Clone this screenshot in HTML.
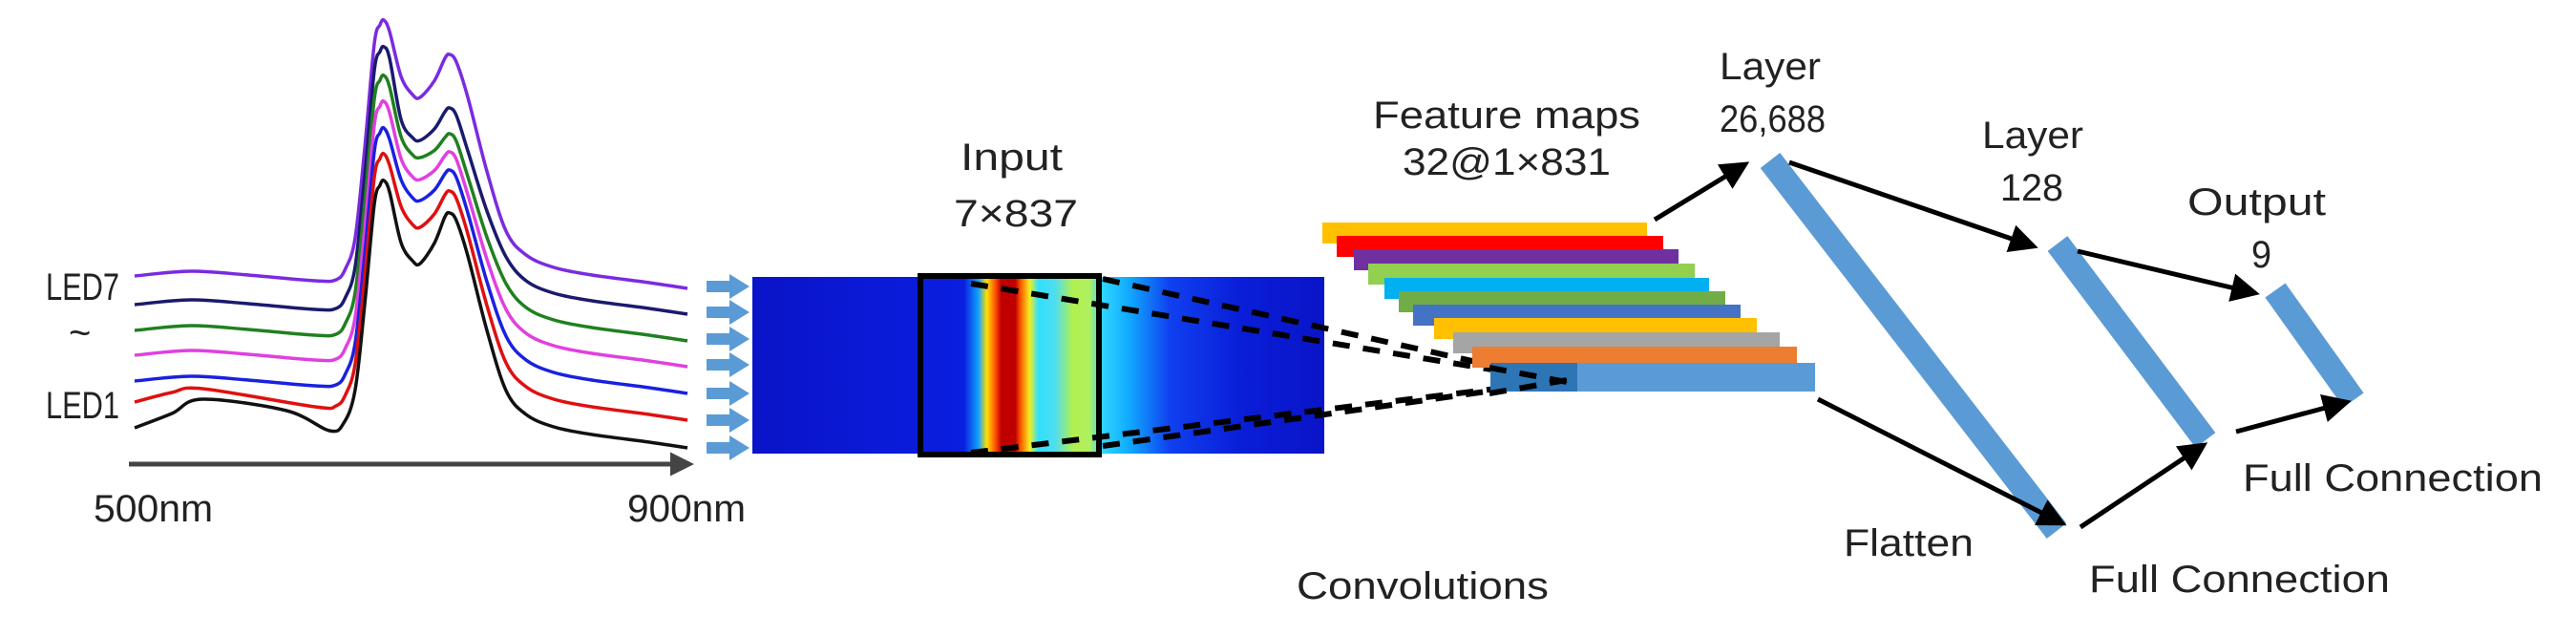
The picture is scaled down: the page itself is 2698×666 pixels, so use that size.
<!DOCTYPE html>
<html><head><meta charset="utf-8"><style>
html,body{margin:0;padding:0;background:#fff;}
svg{display:block;}
text{font-family:"Liberation Sans",sans-serif;fill:#222;font-size:40px;}
</style></head><body>
<svg id="s" width="2698" height="666" viewBox="0 0 2698 666" xmlns="http://www.w3.org/2000/svg">
<defs>
<marker id="ah" markerWidth="6" markerHeight="6" refX="5" refY="3" orient="auto" markerUnits="strokeWidth">
<path d="M0,0 L6,3 L0,6 Z" fill="#000"/></marker>
<marker id="ag" markerWidth="5" markerHeight="5" refX="4" refY="2.5" orient="auto" markerUnits="strokeWidth">
<path d="M0,0 L5,2.5 L0,5 Z" fill="#444"/></marker>
<linearGradient id="hm" x1="788" x2="1387" gradientUnits="userSpaceOnUse">
<stop offset="0" stop-color="#0a14c8"/>
<stop offset="0.37" stop-color="#0a1ee0"/>
<stop offset="0.395" stop-color="#10a0ff"/>
<stop offset="0.41" stop-color="#ffe000"/>
<stop offset="0.425" stop-color="#ff5000"/>
<stop offset="0.435" stop-color="#c00000"/>
<stop offset="0.46" stop-color="#c00000"/>
<stop offset="0.47" stop-color="#ff6000"/>
<stop offset="0.485" stop-color="#f0f020"/>
<stop offset="0.5" stop-color="#30e0ff"/>
<stop offset="0.53" stop-color="#50ddee"/>
<stop offset="0.56" stop-color="#b0f050"/>
<stop offset="0.59" stop-color="#b0f060"/>
<stop offset="0.61" stop-color="#30d8ff"/>
<stop offset="0.66" stop-color="#10a8ff"/>
<stop offset="0.73" stop-color="#1040f0"/>
<stop offset="0.85" stop-color="#0a1ed8"/>
<stop offset="1" stop-color="#0a14c8"/>
</linearGradient>
</defs>

<text x="48" y="314" textLength="77" lengthAdjust="spacingAndGlyphs">LED7</text>
<text x="72" y="362" font-size="34">~</text>
<text x="48" y="438" textLength="77" lengthAdjust="spacingAndGlyphs">LED1</text>

<g id="spec" fill="none" stroke-width="3.5" stroke-linejoin="round"></g>

<line x1="135" y1="486" x2="722" y2="486" stroke="#444" stroke-width="5" marker-end="url(#ag)"/>
<text x="98" y="546" textLength="125" lengthAdjust="spacingAndGlyphs" font-size="38" fill="#333">500nm</text>
<text x="657" y="546" textLength="124" lengthAdjust="spacingAndGlyphs" font-size="38" fill="#333">900nm</text>

<g id="barr" fill="#5b9bd5"></g>

<rect x="788" y="290" width="599" height="185" fill="url(#hm)"/>
<rect x="964" y="289" width="187" height="187" fill="none" stroke="#000" stroke-width="6"/>
<g stroke="#000" stroke-width="6" stroke-dasharray="18 14" fill="none">
<line x1="1017" y1="297" x2="1641" y2="400"/>
<line x1="1155" y1="292" x2="1641" y2="400"/>
<line x1="1017" y1="474" x2="1641" y2="398"/>
<line x1="1155" y1="467" x2="1641" y2="398"/>
</g>
<text x="1006" y="178" textLength="107" lengthAdjust="spacingAndGlyphs">Input</text>
<text x="999" y="237" textLength="130" lengthAdjust="spacingAndGlyphs" font-size="38">7×837</text>

<rect x="1385" y="233" width="340" height="22" fill="#ffc000"/>
<rect x="1400" y="247" width="342" height="22" fill="#ff0000"/>
<rect x="1418" y="261" width="340" height="22" fill="#7030a0"/>
<rect x="1433" y="276" width="342" height="22" fill="#92d050"/>
<rect x="1450" y="291" width="340" height="22" fill="#00b0f0"/>
<rect x="1465" y="305" width="342" height="22" fill="#70ad47"/>
<rect x="1480" y="319" width="343" height="22" fill="#4472c4"/>
<rect x="1502" y="333" width="338" height="22" fill="#ffc000"/>
<rect x="1522" y="348" width="342" height="22" fill="#a5a5a5"/>
<rect x="1542" y="363" width="340" height="22" fill="#ed7d31"/>
<rect x="1561" y="380" width="340" height="30" fill="#5b9bd5"/>
<rect x="1561" y="380" width="91" height="30" fill="#2e75b6"/>
<g stroke="#000" stroke-width="6" stroke-dasharray="18 14" fill="none">
<line x1="1560" y1="385" x2="1641" y2="400"/>
<line x1="1560" y1="412" x2="1641" y2="398"/>
</g>
<text x="1438" y="134" textLength="280" lengthAdjust="spacingAndGlyphs">Feature maps</text>
<text x="1469" y="183" textLength="218" lengthAdjust="spacingAndGlyphs" font-size="38">32@1×831</text>
<text x="1358" y="627" textLength="264" lengthAdjust="spacingAndGlyphs">Convolutions</text>

<g stroke="#5b9bd5" stroke-width="26">
<line x1="1854" y1="168" x2="2154" y2="556"/>
<line x1="2155" y1="255" x2="2310" y2="461"/>
<line x1="2383" y1="304" x2="2465" y2="419"/>
</g>
<g stroke="#000" stroke-width="5" fill="none" marker-end="url(#ah)">
<line x1="1733" y1="230" x2="1828" y2="172"/>
<line x1="1874" y1="170" x2="2130" y2="258"/>
<line x1="2176" y1="263" x2="2362" y2="307"/>
<line x1="1904" y1="418" x2="2160" y2="548"/>
<line x1="2179" y1="552" x2="2308" y2="466"/>
<line x1="2342" y1="452" x2="2458" y2="421"/>
</g>
<text x="1801" y="83" textLength="106" lengthAdjust="spacingAndGlyphs">Layer</text>
<text x="1801" y="138" textLength="111" lengthAdjust="spacingAndGlyphs" font-size="38">26,688</text>
<text x="2076" y="155" textLength="106" lengthAdjust="spacingAndGlyphs">Layer</text>
<text x="2095" y="210" textLength="66" lengthAdjust="spacingAndGlyphs" font-size="38">128</text>
<text x="2291" y="225" textLength="145" lengthAdjust="spacingAndGlyphs">Output</text>
<text x="2358" y="280" textLength="21" lengthAdjust="spacingAndGlyphs" font-size="38">9</text>
<text x="1931" y="582" textLength="136" lengthAdjust="spacingAndGlyphs">Flatten</text>
<text x="2188" y="620" textLength="315" lengthAdjust="spacingAndGlyphs">Full Connection</text>
<text x="2349" y="514" textLength="314" lengthAdjust="spacingAndGlyphs">Full Connection</text>
</svg>
<script>
(function(){
var NS="http://www.w3.org/2000/svg";
var data=[
["#7a2be0",289,21,102,57,302],
["#1a1a6e",319,49,147,113,329],
["#208020",346,79,165,140,357],
["#e040e0",372,106,188,159,384],
["#1a20e0",399,134,210,178,412],
["#e01010",421,161,238,200,440],
["#111111",448,189,276,223,469]];
var g=document.getElementById("spec");
data.forEach(function(d,i){
 var yL=d[1],p1=d[2],v=d[3],p2=d[4],yR=d[5];
 var pts=[[141,yL],[200,yL-5],[260,yL-1],[330,yL+5],[352,yL+4],[362,yL-8],[372,yL-40],[382,(yL+p1)/2],[392,p1+25],[398,p1+5],[402,p1],[408,p1+12],[420,v-22],[432,v-3],[440,v],[455,(v+p2)/2+5],[466,p2+4],[471,p2],[478,p2+8],[490,p2+45],[510,(p2+yR)/2],[530,yR-60],[551,yR-35],[580,yR-22],[620,yR-14],[680,yR-6],[720,yR]];
 if(i==6){pts[1]=[180,yL-15];pts[2]=[212,yL-30];pts[3]=[300,yL-18];pts[4]=[345,yL+3];pts[5]=[360,yL-5];}
 if(i==5){pts[1]=[180,yL-10];pts[2]=[212,yL-14];}
 // smooth via catmull-rom
 var s="M"+pts[0][0]+","+pts[0][1];
 for(var k=0;k<pts.length-1;k++){
  var p0=pts[Math.max(0,k-1)],p1_=pts[k],p2_=pts[k+1],p3=pts[Math.min(pts.length-1,k+2)];
  var c1x=p1_[0]+(p2_[0]-p0[0])/6,c1y=p1_[1]+(p2_[1]-p0[1])/6;
  var c2x=p2_[0]-(p3[0]-p1_[0])/6,c2y=p2_[1]-(p3[1]-p1_[1])/6;
  s+="C"+c1x+","+c1y+" "+c2x+","+c2y+" "+p2_[0]+","+p2_[1];
 }
 var path=document.createElementNS(NS,"path");
 path.setAttribute("d",s);path.setAttribute("stroke",d[0]);
 g.appendChild(path);
});
var ys=[300,327,355,382,412,440,469];
var b=document.getElementById("barr");
ys.forEach(function(y){
 var p=document.createElementNS(NS,"path");
 p.setAttribute("d","M740,"+(y-6)+"L764,"+(y-6)+"L764,"+(y-13)+"L785,"+y+"L764,"+(y+13)+"L764,"+(y+6)+"L740,"+(y+6)+"Z");
 b.appendChild(p);
});
})();
</script>
</body></html>
